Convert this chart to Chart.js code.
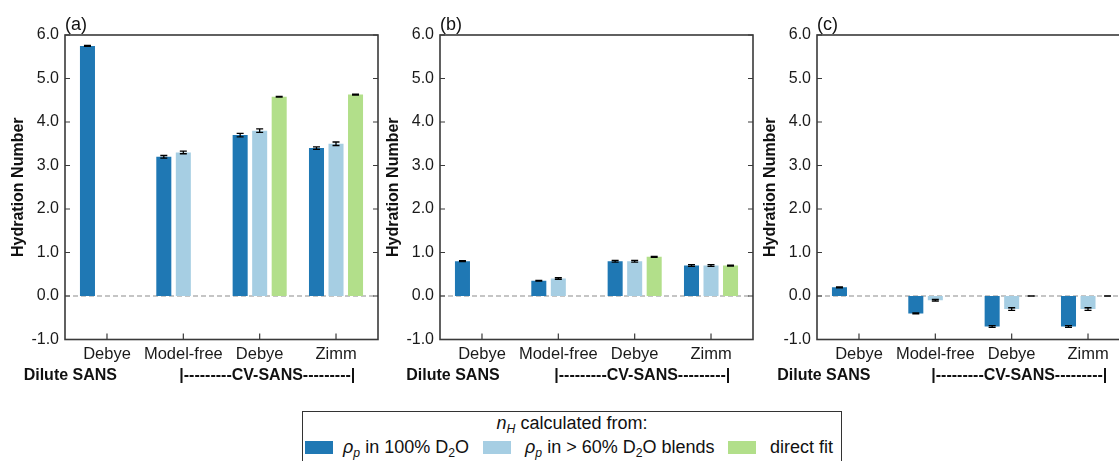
<!DOCTYPE html>
<html>
<head>
<meta charset="utf-8">
<script src="https://cdn.jsdelivr.net/npm/chart.js@4.4.1/dist/chart.umd.min.js"></script>
<style>
  html, body { margin: 0; padding: 0; background: #fff; overflow: hidden; width: 1119px; height: 461px; }
  .panel { position: absolute; top: 0; }
  #legend { position: absolute; left: 302px; top: 411px; width: 540px; height: 60px; box-sizing: border-box;
            border: 1.5px solid #333; font-family: 'Liberation Sans', Arial, sans-serif; font-size: 18px; color: #111; }
  #legend .title { position: absolute; left: 0; right: 0; top: 1px; text-align: center; line-height: 20px; }
  #legend .sw { position: absolute; top: 29px; width: 28px; height: 13px; }
  #legend .txt { position: absolute; top: 25px; line-height: 20px; white-space: nowrap; }
  #legend sub { font-size: 0.68em; vertical-align: -0.3em; line-height: 0; }
</style>
</head>
<body>
<canvas id="panelA" class="panel" width="390" height="400" style="left:0px"></canvas>
<canvas id="panelB" class="panel" width="390" height="400" style="left:375px"></canvas>
<canvas id="panelC" class="panel" width="390" height="400" style="left:752px"></canvas>

<div id="legend">
  <div class="title"><i>n</i><sub><i>H</i></sub> calculated from:</div>
  <div class="sw" style="left:2px; background:#1f78b4"></div>
  <div class="txt" style="left:40px"><i>ρ</i><sub><i>p</i></sub> in 100% D<sub>2</sub>O</div>
  <div class="sw" style="left:180px; background:#a6cee3"></div>
  <div class="txt" style="left:222px"><i>ρ</i><sub><i>p</i></sub> in &gt; 60% D<sub>2</sub>O blends</div>
  <div class="sw" style="left:425px; background:#b2df8a"></div>
  <div class="txt" style="left:467px">direct fit</div>
</div>

<script>
// categories and tick labels
const categories = ['Debye', 'Model-free', 'Debye', 'Zimm'];
const seriesNames = ['ρp in 100% D2O', 'ρp in > 60% D2O blends', 'direct fit'];
const yTicks = [-1, 0, 1, 2, 3, 4, 5, 6];
const panelLabels = ['(a)', '(b)', '(c)'];
const groupLabels = ['Dilute SANS', '|---------CV-SANS---------|'];
const colors = ['#1f78b4', '#a6cee3', '#b2df8a'];

// panel (a)
const aD2O = [5.75, 3.2, 3.7, 3.4];
const aBlend = [null, 3.3, 3.8, 3.5];
const aFit = [null, null, 4.58, 4.63];
const aD2OErr = [0.01, 0.03, 0.04, 0.03];
const aBlendErr = [null, 0.03, 0.04, 0.04];
const aFitErr = [null, null, 0.01, 0.01];

// panel (b)
const bD2O = [0.8, 0.35, 0.8, 0.7];
const bBlend = [null, 0.4, 0.8, 0.7];
const bFit = [null, null, 0.9, 0.7];
const bD2OErr = [0.01, 0.01, 0.02, 0.02];
const bBlendErr = [null, 0.02, 0.02, 0.02];
const bFitErr = [null, null, 0.01, 0.01];

// panel (c)
const cD2O = [0.2, -0.4, -0.7, -0.7];
const cBlend = [null, -0.1, -0.3, -0.3];
const cFit = [null, null, 0, 0];
const cD2OErr = [0.01, 0.01, 0.02, 0.02];
const cBlendErr = [null, 0.02, 0.03, 0.03];
const cFitErr = [null, null, 0.005, 0.005];

const FONT = "'Liberation Sans', Arial, sans-serif";

// zero line, error bars, frame with inward ticks, panel letter, group notes
const panelDecor = {
  id: 'panelDecor',
  beforeDatasetsDraw(chart) {
    const { ctx, chartArea, scales: { y } } = chart;
    const y0 = y.getPixelForValue(0);
    ctx.save();
    ctx.strokeStyle = '#8c8c8c';
    ctx.lineWidth = 1.2;
    ctx.setLineDash([5, 3]);
    ctx.beginPath();
    ctx.moveTo(chartArea.left, y0);
    ctx.lineTo(chartArea.right, y0);
    ctx.stroke();
    ctx.restore();
  },
  afterDatasetsDraw(chart) {
    const { ctx, scales: { y } } = chart;
    ctx.save();
    ctx.strokeStyle = '#000';
    ctx.lineWidth = 1.3;
    chart.data.datasets.forEach((ds, i) => {
      const meta = chart.getDatasetMeta(i);
      meta.data.forEach((bar, j) => {
        const v = ds.data[j].y;
        const e = ds.errors[j];
        if (v == null || e == null) return;
        const top = y.getPixelForValue(v + e);
        const bot = y.getPixelForValue(v - e);
        const x = bar.x;
        ctx.beginPath();
        ctx.moveTo(x, top); ctx.lineTo(x, bot);
        ctx.moveTo(x - 3.5, top); ctx.lineTo(x + 3.5, top);
        ctx.moveTo(x - 3.5, bot); ctx.lineTo(x + 3.5, bot);
        ctx.stroke();
      });
    });
    ctx.restore();
  },
  afterDraw(chart) {
    const { ctx, chartArea: a, scales: { x, y } } = chart;
    const opts = chart.options.plugins.panelDecor;
    ctx.save();
    ctx.strokeStyle = '#3a3a3a';
    ctx.lineWidth = 1.6;
    ctx.strokeRect(a.left, a.top, a.right - a.left, a.bottom - a.top);
    ctx.lineWidth = 1.2;
    ctx.beginPath();
    yTicks.forEach(v => {
      const py = y.getPixelForValue(v);
      ctx.moveTo(a.left, py); ctx.lineTo(a.left + 5, py);
      ctx.moveTo(a.right, py); ctx.lineTo(a.right - 5, py);
    });
    categories.forEach((c, i) => {
      const px = x.getPixelForValue(i);
      ctx.moveTo(px, a.bottom); ctx.lineTo(px, a.bottom - 6);
    });
    ctx.stroke();

    ctx.fillStyle = '#111';
    ctx.font = '18px ' + FONT;
    ctx.textAlign = 'left';
    ctx.textBaseline = 'alphabetic';
    ctx.fillText(opts.letter, a.left, a.top - 5);

    ctx.font = 'bold 16px ' + FONT;
    ctx.textAlign = 'center';
    ctx.textBaseline = 'middle';
    ctx.fillText(groupLabels[0], x.getPixelForValue(opts.diluteAt), 376);
    ctx.fillText(groupLabels[1], x.getPixelForValue(opts.cvAt), 376);
    ctx.restore();
  }
};

function makePanel(id, letter, d2o, blend, fit, errs, diluteAt, cvAt) {
  const pts = arr => arr.map((v, i) => ({ x: i, y: v }));
  return new Chart(document.getElementById(id), {
    type: 'bar',
    data: {
      datasets: [
        { label: seriesNames[0], data: pts(d2o), errors: errs[0], backgroundColor: colors[0] },
        { label: seriesNames[1], data: pts(blend), errors: errs[1], backgroundColor: colors[1] },
        { label: seriesNames[2], data: pts(fit), errors: errs[2], backgroundColor: colors[2] }
      ]
    },
    options: {
      responsive: false,
      animation: false,
      layout: { padding: { top: 35, right: 12, left: 0, bottom: 0 } },
      datasets: { bar: { categoryPercentage: 0.767, barPercentage: 0.77 } },
      plugins: {
        legend: { display: false },
        tooltip: { enabled: false },
        panelDecor: { letter, diluteAt, cvAt }
      },
      scales: {
        x: {
          type: 'linear',
          offset: false,
          min: -0.55,
          max: 3.55,
          grid: { display: false, drawTicks: false, offset: false },
          border: { display: false },
          afterBuildTicks: s => { s.ticks = categories.map((c, i) => ({ value: i })); },
          afterFit: s => { s.height = 60.5; },
          ticks: {
            callback: v => categories[v],
            autoSkip: false,
            maxRotation: 0,
            padding: 5,
            color: '#1a1a1a',
            font: { family: FONT, size: 16.5 }
          }
        },
        y: {
          min: -1,
          max: 6,
          grid: { display: false, drawTicks: false },
          border: { display: false },
          afterBuildTicks: s => { s.ticks = yTicks.map(v => ({ value: v })); },
          afterFit: s => { s.width = 65; },
          ticks: {
            callback: v => v.toFixed(1),
            padding: 6,
            color: '#1a1a1a',
            font: { family: FONT, size: 16 }
          },
          title: {
            display: true,
            text: 'Hydration Number',
            color: '#111',
            padding: { top: 9, bottom: 0 },
            font: { family: FONT, size: 16, weight: 'bold' }
          }
        }
      }
    },
    plugins: [panelDecor]
  });
}

makePanel('panelA', panelLabels[0], aD2O, aBlend, aFit, [aD2OErr, aBlendErr, aFitErr], -0.48, 2.1);
makePanel('panelB', panelLabels[1], bD2O, bBlend, bFit, [bD2OErr, bBlendErr, bFitErr], -0.38, 2.1);
makePanel('panelC', panelLabels[2], cD2O, cBlend, cFit, [cD2OErr, cBlendErr, cFitErr], -0.46, 2.1);
</script>
</body>
</html>
